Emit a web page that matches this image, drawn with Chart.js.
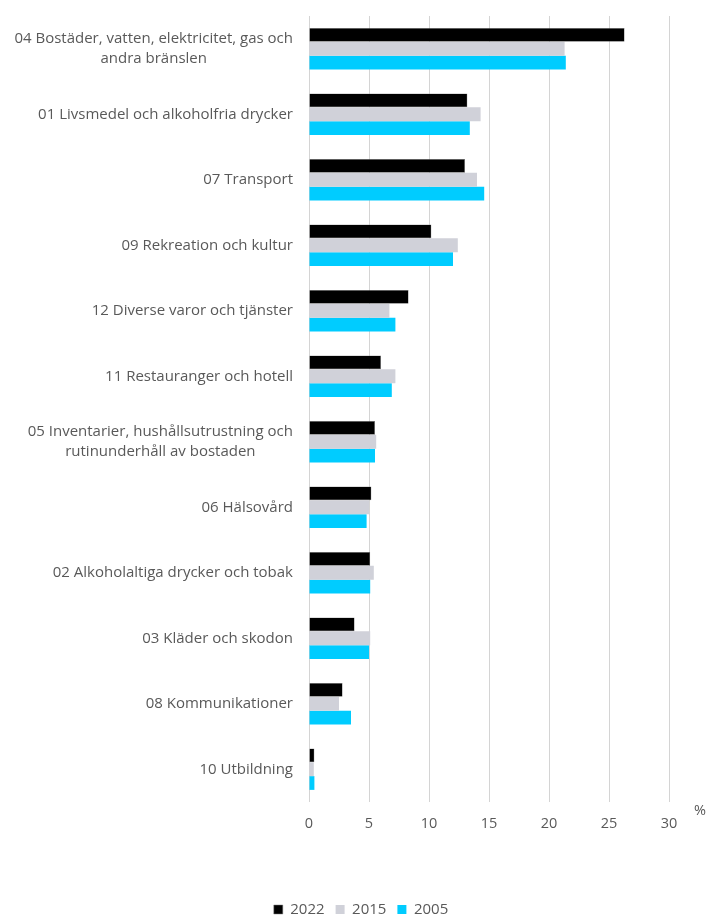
<!DOCTYPE html>
<html>
<head>
<meta charset="utf-8">
<script src="https://cdn.jsdelivr.net/npm/chart.js@4/dist/chart.umd.min.js"></script>
<style>
  html, body { margin: 0; padding: 0; background: #fff; }
  #wrap { width: 708px; height: 916px; }
</style>
</head>
<body>
<div id="wrap"><canvas id="chart"></canvas></div>
<script>
const categories = [
  ['04 Bostäder, vatten, elektricitet, gas och', 'andra bränslen'],
  ['01 Livsmedel och alkoholfria drycker'],
  ['07 Transport'],
  ['09 Rekreation och kultur'],
  ['12 Diverse varor och tjänster'],
  ['11 Restauranger och hotell'],
  ['05 Inventarier, hushållsutrustning och', 'rutinunderhåll av bostaden'],
  ['06 Hälsovård'],
  ['02 Alkoholaltiga drycker och tobak'],
  ['03 Kläder och skodon'],
  ['08 Kommunikationer'],
  ['10 Utbildning']
];

const years = ['2022', '2015', '2005'];
const values2022 = [26.3, 13.2, 13.0, 10.2, 8.3, 6.0, 5.5, 5.2, 5.1, 3.8, 2.8, 0.45];
const values2015 = [21.3, 14.3, 14.0, 12.4, 6.7, 7.2, 5.6, 5.0, 5.4, 5.1, 2.5, 0.4];
const values2005 = [21.4, 13.4, 14.6, 12.0, 7.2, 6.9, 5.5, 4.8, 5.1, 5.0, 3.5, 0.45];
const xTicks = [0, 5, 10, 15, 20, 25, 30];

const colors = {
  black: '#000000',
  gray: '#d0d1d9',
  cyan: '#00ccff',
  text: '#595959',
  grid: '#d4d4d4'
};
const fontFamily = '"Open Sans", Lato, sans-serif';

// category labels drawn by hand so two-line labels can be centred on each other
const categoryLabels = {
  id: 'categoryLabels',
  afterDraw(chart) {
    const ctx = chart.ctx;
    const yScale = chart.scales.y;
    const right = chart.chartArea.left - 16;
    ctx.save();
    ctx.font = '15px ' + fontFamily;
    ctx.fillStyle = colors.text;
    ctx.textBaseline = 'middle';
    categories.forEach((lines, i) => {
      const y = yScale.getPixelForValue(i);
      const widest = Math.max(...lines.map(l => ctx.measureText(l).width));
      const center = right - widest / 2;
      const lineHeight = 20;
      const startY = y - (lines.length - 1) * lineHeight / 2;
      ctx.textAlign = 'center';
      lines.forEach((line, j) => {
        ctx.fillText(line, center, startY + j * lineHeight);
      });
    });
    // unit label on the value axis
    ctx.textAlign = 'left';
    ctx.font = '14.5px ' + fontFamily;
    ctx.fillText('%', chart.chartArea.right + 25, chart.chartArea.bottom + 9);
    ctx.restore();
  }
};

new Chart(document.getElementById('chart'), {
  type: 'bar',
  data: {
    labels: categories.map(c => c.join(' ')),
    datasets: [
      { label: years[0], data: values2022, backgroundColor: colors.black, borderColor: '#7f7f7f', borderWidth: 0.5 },
      { label: years[1], data: values2015, backgroundColor: colors.gray },
      { label: years[2], data: values2005, backgroundColor: colors.cyan }
    ]
  },
  options: {
    indexAxis: 'y',
    responsive: true,
    maintainAspectRatio: false,
    animation: false,
    layout: { padding: { left: 53, right: 39, top: 16, bottom: -11 } },
    datasets: {
      bar: { categoryPercentage: 0.63, barPercentage: 1.0 }
    },
    plugins: {
      legend: {
        position: 'bottom',
        labels: {
          color: colors.text,
          font: { family: fontFamily, size: 15 },
          boxWidth: 9,
          boxHeight: 9,
          padding: 11
        }
      },
      tooltip: { enabled: false }
    },
    scales: {
      x: {
        min: 0,
        max: 30,
        afterBuildTicks: (scale) => { scale.ticks = xTicks.map(v => ({ value: v })); },
        grid: { color: colors.grid, drawTicks: false },
        border: { display: false },
        ticks: {
          color: colors.text,
          font: { family: fontFamily, size: 14.5 },
          padding: 13
        },
        afterFit: (scale) => { scale.height = 89; }
      },
      y: {
        ticks: { display: false },
        grid: { display: false },
        border: { display: false },
        afterFit: (scale) => { scale.width = 256; }
      }
    }
  },
  plugins: [categoryLabels]
});
</script>
</body>
</html>
